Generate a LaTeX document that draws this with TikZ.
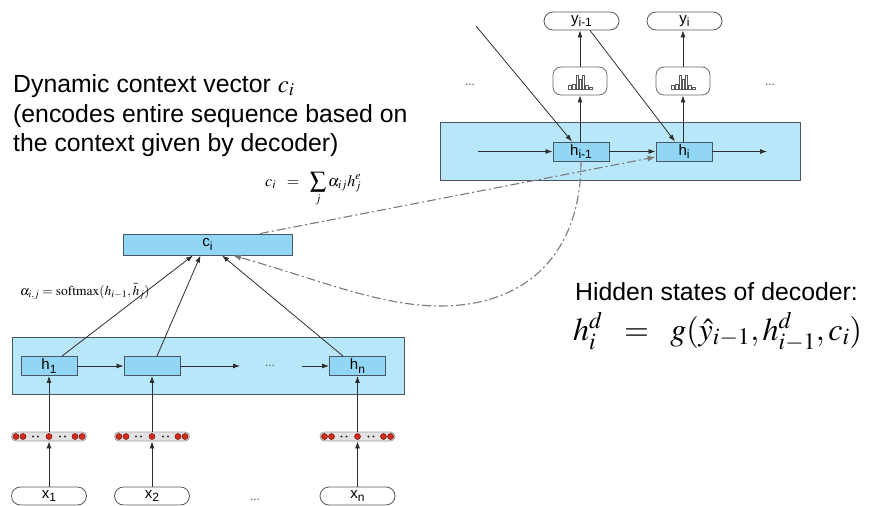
\documentclass[tikz,border=0pt]{standalone}
\usepackage{mathptmx}
\usepackage[no-math]{fontspec}
\setmainfont{Liberation Sans}
\usetikzlibrary{arrows.meta}
\definecolor{bandfill}{HTML}{B9E7FA}
\definecolor{cellfill}{HTML}{92D6F5}
\definecolor{edge}{HTML}{4A5663}
\definecolor{linkgray}{HTML}{7A7A7A}
\definecolor{dotred}{HTML}{D52B1E}
\definecolor{ink}{HTML}{2E2E2E}

% lowered subscript for cell labels
\newcommand\lowsub[1]{\raisebox{-0.45ex}{\fontsize{12}{12}\selectfont #1}}

% small bar-chart glyph drawn around a given point
\newcommand\drawhisto[1]{%
  \begin{scope}[shift={(#1)}, draw=ink!80, line width=0.5pt]
    \draw (-12,8) rectangle (-9,4);
    \draw (-8,8) rectangle (-5,3);
    \draw (-4,8) rectangle (-2,-6);
    \draw (-1,8) rectangle (1,-2);
    \draw (2,8) rectangle (4,-6);
    \draw (5,8) rectangle (8,4);
    \draw (9,8) rectangle (12,6);
  \end{scope}}

\begin{document}
\begin{tikzpicture}[x=1pt,y=-1pt,
  band/.style={draw=edge, fill=bandfill, line width=0.9pt, inner sep=0pt},
  cell/.style={draw=edge, fill=cellfill, line width=0.9pt, inner sep=0pt,
    minimum width=56pt, minimum height=19pt, font=\fontsize{15}{15}\selectfont},
  pill/.style={draw=ink!80, fill=white, line width=0.8pt, rounded corners=9pt,
    inner sep=0pt, minimum width=75pt, minimum height=18pt,
    font=\fontsize{15}{15}\selectfont},
  softbox/.style={draw=ink!70, fill=white, line width=0.8pt, rounded corners=8pt,
    inner sep=0pt, minimum width=54pt, minimum height=28pt},
  embbox/.style={draw=gray!75, fill=gray!22, line width=0.8pt, rounded corners=4.5pt,
    inner sep=0pt, minimum width=75pt, minimum height=9pt},
  arr/.style={draw=ink, line width=0.8pt, -{Latex[length=7pt,width=5pt]}},
  dd/.style={draw=linkgray, line width=1.1pt,
    dash pattern=on 9pt off 3pt on 2pt off 3pt,
    -{Latex[length=8pt,width=6pt]}},
  ell/.style={text=gray!60!black, font=\fontsize{12}{12}\selectfont, inner sep=0pt},
  bigtext/.style={anchor=base west, inner sep=0pt, font=\fontsize{24.8}{29.5}\selectfont},
]
\useasboundingbox (0,0) rectangle (876,506);

% ---------------- encoder ----------------
\node[band, minimum width=392pt, minimum height=57pt] (enc) at (208,365.5) {};
\node[cell] (h1) at (49,366) {h\lowsub{1}};
\node[cell] (h2) at (152,366) {};
\node[cell] (hn) at (357.5,366) {h\lowsub{n}};
\coordinate (encout) at (240,366);
\coordinate (encin) at (302,366);
\node[ell] (edots) at (270,366) {...};
\draw[arr] (h1) -- (h2);
\draw[arr] (h2.east) -- (encout);
\draw[arr] (encin) -- (hn.west);

% embeddings and inputs
\foreach \n/\xx/\lab in {1/49/x\lowsub{1}, 2/152/x\lowsub{2}, n/357.5/x\lowsub{n}}{
  \node[embbox] (e\n) at (\xx,436.5) {};
  \node[pill] (x\n) at (\xx,496) {\lab};
}
\node[ell] (xdots) at (255,500) {...};
\foreach \n in {1,2,n}{
  \begin{scope}[shift={(e\n)}]
    \foreach \dx in {-33,-26,0,26,33}
      \filldraw[fill=dotred, draw=dotred!55!black, line width=0.5pt] (\dx,0) circle (3pt);
    \foreach \dx in {-16,-11,11,16}
      \fill[ink] (\dx,0) circle (1.1pt);
  \end{scope}
}
\draw[arr] (x1) -- (e1);
\draw[arr] (e1) -- (h1);
\draw[arr] (x2) -- (e2);
\draw[arr] (e2) -- (h2);
\draw[arr] (xn) -- (en);
\draw[arr] (en) -- (hn);

% ---------------- context vector ----------------
\node[cell, minimum width=169pt, minimum height=21pt] (ci) at (207.5,244.5) {c\lowsub{i}};
\draw[arr] ([xshift=13pt]h1.north) -- ([xshift=-14.5pt]ci.south);
\draw[arr] ([xshift=5pt]h2.north) -- ([xshift=-7pt]ci.south);
\draw[arr] ([xshift=-14.5pt]hn.north) -- ([xshift=14.5pt]ci.south);

% ---------------- decoder ----------------
\node[band, minimum width=360pt, minimum height=58pt] (dec) at (620,151) {};
\node[cell] (d1) at (581,151.5) {h\lowsub{i-1}};
\node[cell] (d2) at (684,151.5) {h\lowsub{i}};
\node[softbox] (s1) at (580,81) {};
\node[softbox] (s2) at (683,81) {};
\drawhisto{s1}
\drawhisto{s2}
\node[pill] (y1) at (581.5,21) {y\lowsub{i-1}};
\node[pill] (y2) at (684.5,21) {y\lowsub{i}};
\node[ell] (ldots) at (470,85) {...};
\node[ell] (rdots) at (770,85) {...};
\coordinate (decin) at (478,151.5);
\coordinate (decout) at (767,151.5);
\coordinate (prev) at (476,26);
\draw[arr] (decin) -- (d1.west);
\draw[arr] (d1) -- (d2);
\draw[arr] (d2.east) -- (decout);
\draw[arr] (d1.north -| s1) -- (s1);
\draw[arr] (s1) -- (y1.south -| s1);
\draw[arr] (d2.north -| s2) -- (s2);
\draw[arr] (s2) -- (y2.south -| s2);
\draw[arr] (prev) -- ([xshift=-9pt]d1.north);
\draw[arr] ([xshift=8.5pt]y1.south) -- ([xshift=-9pt]d2.north);

% attention links
\coordinate (dip) at (440,306);
\draw[dd] ([xshift=52.5pt]ci.north) -- ([yshift=-5.5pt]d2.west);
\draw[dd] (d1.south) .. controls (581,250) and (530,306) .. (dip)
  .. controls (380,306) and (320,280) .. ([xshift=25.5pt]ci.south);

% ---------------- text ----------------
\node[bigtext] (t1) at (13,92) {Dynamic context vector $c_i$};
\node[bigtext] (t2) at (13,122) {(encodes entire sequence based on};
\node[bigtext] (t3) at (13,151) {the context given by decoder)};
\node[bigtext] (t4) at (575,300) {Hidden states of decoder:};
\node[anchor=base west, inner sep=0pt, font=\fontsize{32}{32}\selectfont] (eqh) at (573,340)
  {$h^d_i \;\;=\;\; g(\hat{y}_{i-1}, h^d_{i-1}, c_i)$};
\node[anchor=base west, inner sep=0pt, font=\fontsize{16}{16}\selectfont] (eqc) at (265,186)
  {$c_i \;\;=\;\; \displaystyle\sum_j \alpha_{ij} h^e_j$};
\node[anchor=base west, inner sep=0pt, font=\fontsize{13.5}{13.5}\selectfont] (eqa) at (20,295)
  {$\alpha_{i,j} = \mathrm{softmax}(h_{i-1}, \bar{h}_j)$};
\end{tikzpicture}
\end{document}
